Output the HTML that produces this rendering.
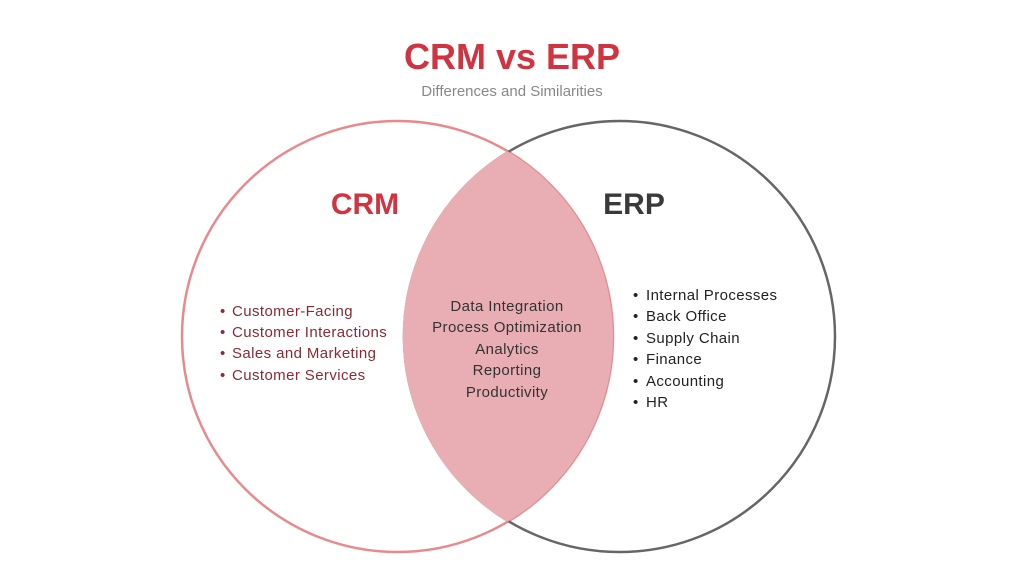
<!DOCTYPE html>
<html><head><style>
body{margin:0;width:1024px;height:576px;background:#fff;overflow:hidden}
svg text{font-family:"Liberation Sans",sans-serif}
</style></head><body>
<svg width="1024" height="576" viewBox="0 0 1024 576">
<defs><clipPath id="c"><circle cx="397.5" cy="336.5" r="215.5"/></clipPath></defs>
<circle cx="397.5" cy="336.5" r="215.5" fill="none" stroke="#e8898d" stroke-width="2.5"/>
<circle cx="619.5" cy="336.5" r="215.5" fill="none" stroke="#666" stroke-width="2.5"/>
<circle cx="619.5" cy="336.5" r="216.8" fill="#e9aeb3" clip-path="url(#c)"/>
<text x="512" y="69" text-anchor="middle" font-size="36" font-weight="bold" fill="#cf3440">CRM vs ERP</text>
<text x="512" y="96" text-anchor="middle" font-size="15" fill="#888">Differences and Similarities</text>
<text x="365" y="214" text-anchor="middle" font-size="30" font-weight="bold" fill="#cf3440">CRM</text>
<text x="634" y="214" text-anchor="middle" font-size="30" font-weight="bold" fill="#3a3a3a">ERP</text>
<g font-size="15" fill="#8b2a35" letter-spacing="0.4">
<text x="220" y="316">•</text><text x="232" y="316">Customer-Facing</text>
<text x="220" y="337">•</text><text x="232" y="337">Customer Interactions</text>
<text x="220" y="358">•</text><text x="232" y="358">Sales and Marketing</text>
<text x="220" y="380">•</text><text x="232" y="380">Customer Services</text>
</g>
<g font-size="15" fill="#333" text-anchor="middle" letter-spacing="0.4">
<text x="507" y="311">Data Integration</text>
<text x="507" y="332">Process Optimization</text>
<text x="507" y="354">Analytics</text>
<text x="507" y="375">Reporting</text>
<text x="507" y="397">Productivity</text>
</g>
<g font-size="15" fill="#222" letter-spacing="0.4">
<text x="633" y="300">•</text><text x="646" y="300">Internal Processes</text>
<text x="633" y="321">•</text><text x="646" y="321">Back Office</text>
<text x="633" y="343">•</text><text x="646" y="343">Supply Chain</text>
<text x="633" y="364">•</text><text x="646" y="364">Finance</text>
<text x="633" y="386">•</text><text x="646" y="386">Accounting</text>
<text x="633" y="407">•</text><text x="646" y="407">HR</text>
</g>
</svg>
</body></html>
